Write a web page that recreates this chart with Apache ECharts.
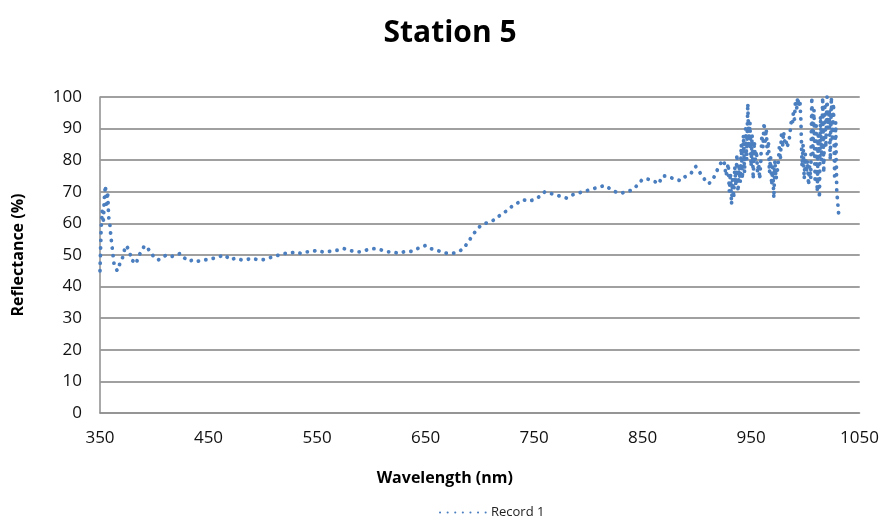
<!DOCTYPE html>
<html>
<head>
<meta charset="utf-8">
<script src="https://cdn.jsdelivr.net/npm/echarts@6/dist/echarts.min.js"></script>
<style>html,body{margin:0;padding:0;background:#fff;}#c{width:882px;height:526px;}</style>
</head>
<body>
<div id="c"></div>
<script>
var title = 'Station 5';
var seriesName = 'Record 1';
var xTickLabels = [350, 450, 550, 650, 750, 850, 950, 1050];
var yTickLabels = [0, 10, 20, 30, 40, 50, 60, 70, 80, 90, 100];
var wavelength = [
350,351,352,353,354,355,356,357,358,359,360,361,362,363,364,366,368,370,372,374,376,378,380,382,384,386,388,391,394,397,
400,404,408,412,416,420,424,428,432,436,440,445,450,455,460,465,470,475,480,485,490,495,500,505,510,515,520,525,530,535,
540,545,550,555,560,565,570,575,580,585,590,595,600,605,610,615,620,625,630,635,640,645,650,655,660,665,670,675,680,685,
690,695,700,705,710,715,720,725,730,735,740,745,750,755,760,765,770,775,780,785,790,795,800,805,810,815,820,825,830,835,
840,845,850,855,860,865,868,872,876,880,885,890,895,899,903,907,911,915,919,922,925,
927,929,930,931,932,933,934,935,936,937,938,939,940,941,942,943,944,945,946,947,948,949,950,951,952,953,954,955,956,957,
958,959,960,961,962,963,964,965,966,967,968,969,970,971,972,973,974,975,976,977,978,979,980,981,982,983,984,985,986,987,
988,989,990,991,992,993,994,995,996,997,998,999,1000,1001,1002,1003,1004,1005,1006,1007,1008,1009,1010,1011,1012,1013,1014,1015,1016,1017,
1018,1019,1020,1021,1022,1023,1024,1025,1026,1027,1028,1029,1030,1031
];
var reflectance = [
45,58,64,60,68,72,65,70,62,60,56,53,50,47,46,45,47,48,51,53,52,50,48,49,48,50,51,53,52,51,
49,48.5,49.5,50,49.5,50,50.5,49,48,48.5,48,48.5,48.5,49,49.5,50,48.5,49,48.5,48.5,49,48.5,48.5,49,49.5,50,50.5,50.5,51,50.5,
51,51,51.5,51,51,51.5,51.5,52,51.5,51,51,51.5,52,52,51.5,51,51,50.5,51,51,51.5,52.5,53,52,51.5,51,50.5,50.5,51,52,
54.5,57,59,60,60.5,61.5,63,64,65.5,66.5,67.5,67,67.5,68.5,70,69.5,69,68.5,68,69,69.5,70,70.5,71,71.5,72,71,70,69.5,70,
70.5,72,74,74,73.5,72.5,75,75,74.5,74,73.5,75,76,78,76,74,72.5,74,77,79,80,
75,79,70,76,66,74,68,78,72,82,70,78,73,85,74,88,76,90,80,98,84,92,78,88,74,86,80,83,76,79,
74,80,88,84,92,86,90,82,86,76,81,72,78,68,80,74,76,79,84,80,88,84,89,86,87,84,85,86,89,92,
91,95,93,99,96,100,97,99,92,78,85,74,82,76,80,72,78,74,100,82,96,74,92,70,88,68,94,80,100,76,
98,84,100,90,96,80,100,86,98,75,92,70,66,62
];
var data = wavelength.map(function (w, i) { return [w, reflectance[i]]; });
var gridLines = yTickLabels.filter(function (v) { return v > 0; }).map(function (v) { return { yAxis: v }; });

var chart = echarts.init(document.getElementById('c'), null, { renderer: 'canvas' });
var font = '"Open Sans", "Liberation Sans", sans-serif';
chart.setOption({
  backgroundColor: '#ffffff',
  animation: false,
  title: {
    text: title, left: 445, top: 13, textAlign: 'center',
    textStyle: { fontFamily: font, fontSize: 30, fontWeight: 'bold', color: '#000' }
  },
  legend: {
    bottom: 2, left: 434, data: [seriesName],
    itemWidth: 46, itemHeight: 12, itemGap: 4,
    itemStyle: { opacity: 0 },
    textStyle: { fontFamily: font, fontSize: 13, color: '#222' }
  },
  grid: { left: 100, right: 22, top: 97, bottom: 113, containLabel: false },
  xAxis: {
    type: 'value', min: 350, max: 1050, interval: 50,
    name: 'Wavelength (nm)', nameLocation: 'middle', nameGap: 57,
    nameTextStyle: { fontFamily: font, fontSize: 16, fontWeight: 'bold', color: '#000', padding: [0, 70, 0, 0] },
    axisLine: { show: true, lineStyle: { color: '#8c8c8c', width: 1.5 } },
    axisTick: { show: false },
    splitLine: { show: false },
    axisLabel: {
      fontFamily: font, fontSize: 17, color: '#111', margin: 17,
      formatter: function (v) { return xTickLabels.indexOf(v) >= 0 ? String(v) : ''; }
    }
  },
  yAxis: {
    type: 'value', min: 0, max: 100, interval: 10,
    name: 'Reflectance (%)', nameLocation: 'middle', nameGap: 74, nameRotate: 90,
    nameTextStyle: { fontFamily: font, fontSize: 16, fontWeight: 'bold', color: '#000' },
    axisLine: { show: true, lineStyle: { color: '#8c8c8c', width: 1.5 } },
    axisTick: { show: false },
    splitLine: { show: true, lineStyle: { color: '#9a9a9a', width: 1.5, type: 'solid' } },
    axisLabel: { fontFamily: font, fontSize: 17, color: '#111', margin: 18 }
  },
  series: [{
    name: seriesName, type: 'line', data: data,
    showSymbol: false, symbol: 'none', smooth: false,
    color: '#4a7ebf',
    lineStyle: { color: '#4a7ebf', width: 3.8, type: [0.1, 7.5], cap: 'round', join: 'round' },
    markLine: {
      silent: true, symbol: 'none', label: { show: false }, animation: false, z: 1,
      lineStyle: { color: '#9a9a9a', width: 1.5, type: 'solid' },
      data: gridLines
    }
  }]
});
</script>
</body>
</html>
